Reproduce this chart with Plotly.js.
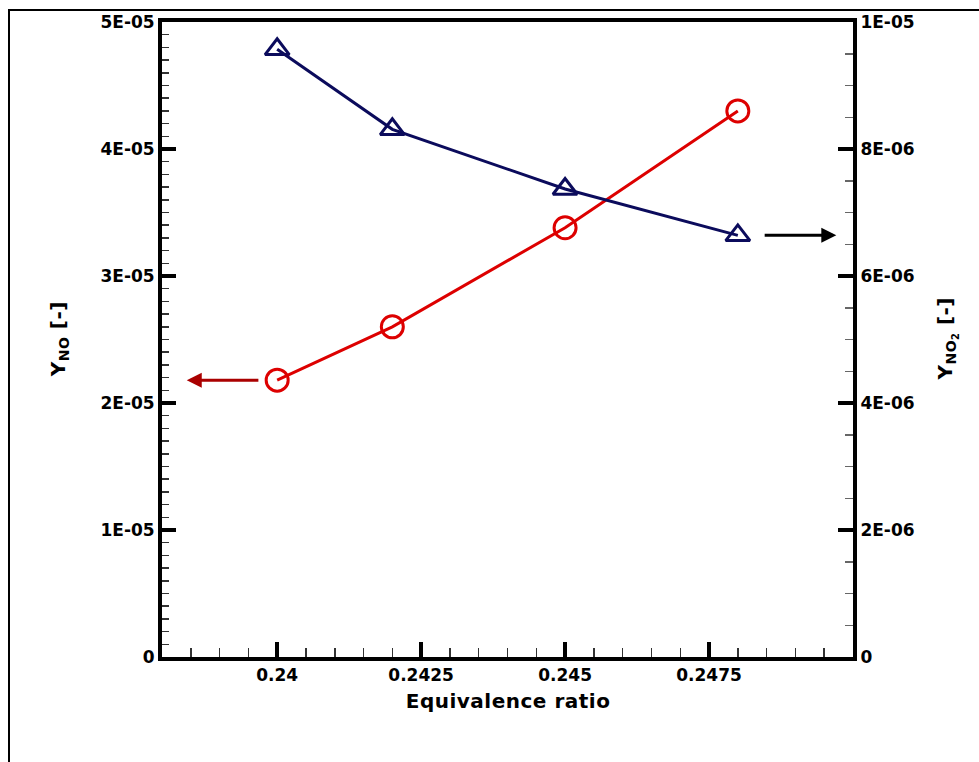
<!DOCTYPE html>
<html>
<head>
<meta charset="utf-8">
<script src="https://cdn.plot.ly/plotly-3.0.1.min.js"></script>
<style>
html,body{margin:0;padding:0;background:#fff;}
#chart{width:979px;height:762px;}
#chart text.annotation-text {letter-spacing:0.5px;}
</style>
</head>
<body>
<div id="chart"></div>
<script>
// ---- data ----
const phi = [0.24, 0.242, 0.245, 0.248];
const yNO = [2.18e-5, 2.60e-5, 3.38e-5, 4.30e-5];
const yNO2 = [9.57e-6, 8.31e-6, 7.37e-6, 6.64e-6];

const xTickVals = [0.24, 0.2425, 0.245, 0.2475];
const xTickText = ['0.24', '0.2425', '0.245', '0.2475'];
const yLeftTickVals = [0, 1e-5, 2e-5, 3e-5, 4e-5, 5e-5];
const yLeftTickText = ['0', '1E-05', '2E-05', '3E-05', '4E-05', '5E-05'];
const yLeftHalfTickVals = [5e-6, 1.5e-5, 2.5e-5, 3.5e-5, 4.5e-5];
const yRightTickVals = [0, 2e-6, 4e-6, 6e-6, 8e-6, 1e-5];
const yRightTickText = ['0', '2E-06', '4E-06', '6E-06', '8E-06', '1E-05'];

const xRange = [0.238, 0.25];
const yLeftRange = [0, 5e-5];
const yRightRange = [0, 1e-5];

// arrow positions (data coordinates)
const arrowNO = {tailX: 0.23970, headX: 0.23843, y: 2.18e-5};
const arrowNO2 = {tailX: 0.24844, headX: 0.24971, y: 6.64e-6};

const FONT = 'DejaVu Sans, Liberation Sans, Arial, sans-serif';
const RED = '#dd0000';
const NAVY = '#0b0b5c';

const traces = [
  {
    x: phi, y: yNO, yaxis: 'y', type: 'scatter', mode: 'lines+markers',
    line: {color: RED, width: 3},
    marker: {symbol: 'circle-open', size: 22, color: RED, line: {color: RED, width: 3}},
    showlegend: false, hoverinfo: 'skip'
  },
  {
    x: phi, y: yNO2, yaxis: 'y2', type: 'scatter', mode: 'lines+markers',
    line: {color: NAVY, width: 3},
    marker: {symbol: 'triangle-up-open', size: 21, color: NAVY, line: {color: NAVY, width: 3}},
    showlegend: false, hoverinfo: 'skip'
  }
];

const tickFont = {family: FONT, size: 17, color: '#000', weight: 'bold'};
const axisCommon = {
  showgrid: false, zeroline: false, showline: true, linecolor: '#000', linewidth: 4,
  ticks: 'inside', tickcolor: '#000', tickwidth: 4, ticklen: 14,
  tickfont: tickFont
};

const layout = {
  width: 979, height: 762,
  margin: {l: 162, r: 126, t: 22, b: 105, pad: 0},
  paper_bgcolor: '#fff', plot_bgcolor: '#fff',
  font: {family: FONT, color: '#000'},
  xaxis: Object.assign({}, axisCommon, {
    range: xRange, tickmode: 'array', tickvals: xTickVals, ticktext: xTickText,
    mirror: true, ticklen: 15,
    minor: {dtick: 0.0005, tick0: 0.24, ticks: 'inside', ticklen: 9, tickwidth: 1.5, tickcolor: '#333'}
  }),
  yaxis: Object.assign({}, axisCommon, {
    range: yLeftRange, tickmode: 'array', tickvals: yLeftTickVals, ticktext: yLeftTickText,
    minor: {dtick: 1e-6, tick0: 0, ticks: 'inside', ticklen: 7, tickwidth: 1.5, tickcolor: '#333'}
  }),
  yaxis2: Object.assign({}, axisCommon, {
    range: yRightRange, overlaying: 'y', side: 'right', anchor: 'x',
    tickmode: 'array', tickvals: yRightTickVals, ticktext: yRightTickText,
    ticklen: 15,
    minor: {dtick: 5e-7, tick0: 0, ticks: 'inside', ticklen: 8, tickwidth: 1.5, tickcolor: '#666'}
  }),
  yaxis3: {
    range: yLeftRange, overlaying: 'y', side: 'left', anchor: 'x',
    showgrid: false, zeroline: false, showline: false, showticklabels: false,
    tickmode: 'array', tickvals: yLeftHalfTickVals,
    ticks: 'inside', tickcolor: '#000', tickwidth: 4, ticklen: 14
  },
  shapes: [
    {type: 'rect', xref: 'paper', yref: 'paper',
     x0: (9 - 162) / 691, x1: (990 - 162) / 691,
     y0: (657 - 775) / 635, y1: (657 - 10) / 635,
     line: {color: '#000', width: 2}, fillcolor: 'rgba(0,0,0,0)', layer: 'below'}
  ],
  annotations: [
    {xref: 'x', yref: 'y', axref: 'x', ayref: 'y',
     x: arrowNO.headX, y: arrowNO.y, ax: arrowNO.tailX, ay: arrowNO.y,
     text: '', showarrow: true, arrowhead: 2, arrowsize: 1, arrowwidth: 3, arrowcolor: '#aa0000'},
    {xref: 'x', yref: 'y2', axref: 'x', ayref: 'y2',
     x: arrowNO2.headX, y: arrowNO2.y, ax: arrowNO2.tailX, ay: arrowNO2.y,
     text: '', showarrow: true, arrowhead: 2, arrowsize: 1, arrowwidth: 3, arrowcolor: '#000'},
    {xref: 'paper', yref: 'paper', x: 0.5, y: 0, yshift: -44, xanchor: 'center', yanchor: 'middle',
     text: '<b>Equivalence ratio</b>', showarrow: false,
     font: {family: FONT, size: 20, color: '#000'}},
    {xref: 'paper', yref: 'paper', x: 0, xshift: -104, y: 0.5, xanchor: 'center', yanchor: 'middle',
     textangle: -90, text: '<b>Y<sub>NO</sub> [-]</b>', showarrow: false,
     font: {family: FONT, size: 20, color: '#000'}},
    {xref: 'paper', yref: 'paper', x: 1, xshift: 93, y: 0.5, xanchor: 'center', yanchor: 'middle',
     textangle: -90, text: '<b>Y<sub>NO<sub>2</sub></sub> [-]</b>', showarrow: false,
     font: {family: FONT, size: 20, color: '#000'}}
  ]
};

Plotly.newPlot('chart', traces, layout, {staticPlot: true, displayModeBar: false});
</script>
</body>
</html>
